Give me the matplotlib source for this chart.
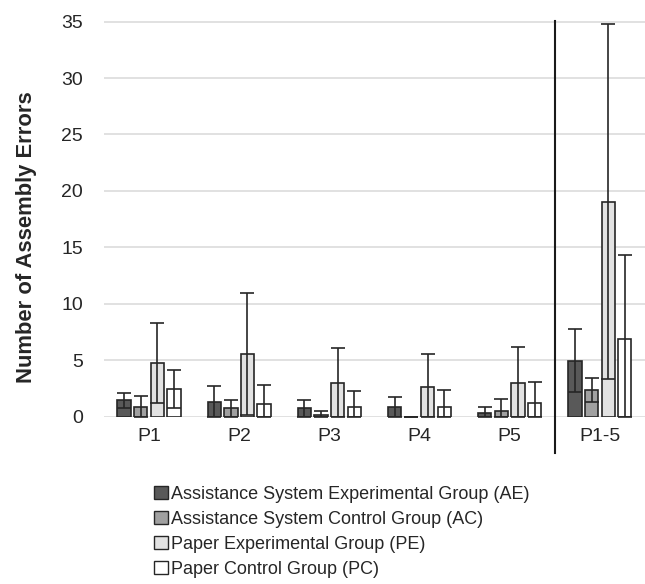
import numpy as np
import matplotlib.pyplot as plt
from matplotlib.patches import Patch

plt.rcParams['font.family'] = ['Liberation Sans', 'DejaVu Sans']

phases = ['P1', 'P2', 'P3', 'P4', 'P5', 'P1-5']
groups = ['Assistance System Experimental Group (AE)',
          'Assistance System Control Group (AC)',
          'Paper Experimental Group (PE)',
          'Paper Control Group (PC)']

# mean errors per phase
ae_mean = [1.45, 1.35, 0.75, 0.85, 0.35, 4.95]
ac_mean = [0.85, 0.75, 0.15, 0.0, 0.5, 2.4]
pe_mean = [4.75, 5.55, 2.95, 2.65, 2.95, 19.05]
pc_mean = [2.45, 1.15, 0.85, 0.9, 1.25, 6.85]

# standard deviations
ae_sd = [0.65, 1.4, 0.75, 0.9, 0.5, 2.8]
ac_sd = [0.95, 0.75, 0.38, 0.0, 1.05, 1.05]
pe_sd = [3.55, 5.4, 3.1, 2.9, 3.25, 15.75]
pc_sd = [1.7, 1.7, 1.45, 1.5, 1.8, 7.5]

means = [ae_mean, ac_mean, pe_mean, pc_mean]
sds = [ae_sd, ac_sd, pe_sd, pc_sd]
colors = ['#595959', '#a0a0a0', '#e2e2e2', '#ffffff']
edge = '#262626'

fig = plt.figure(figsize=(6.45, 5.84), dpi=100)
ax = fig.add_axes([0.161, 0.286, 0.839, 0.678])

x = np.arange(len(phases))
slot = 0.184
width = 0.148
for i in range(4):
    m = np.array(means[i])
    s = np.array(sds[i])
    pos = x + (i - 1.5) * slot
    ax.bar(pos, m, width, color=colors[i], edgecolor=edge, linewidth=1.2, zorder=2)
    lower = np.minimum(s, m)
    ax.errorbar(pos, m, yerr=[lower, s], fmt='none', ecolor=edge,
                elinewidth=1.2, capsize=5, capthick=1.2, zorder=3)

ax.set_xlim(-0.5, len(phases) - 0.5)
ax.set_ylim(-0.02, 35.05)
ax.set_yticks(range(0, 36, 5))
ax.set_xticks(x)
ax.set_xticklabels(phases)
ax.yaxis.grid(True, color='#dcdcdc', linewidth=1.2, zorder=0)
ax.set_axisbelow(True)
for sp in ax.spines.values():
    sp.set_visible(False)
ax.tick_params(length=0, labelsize=14, colors='#262626', pad=8)
ax.tick_params(axis='y', pad=15)
ax.set_ylabel('Number of Assembly Errors', fontsize=15.8, fontweight='bold',
              color='#262626')
ax.yaxis.set_label_coords(-0.124, 0.455)

# separator between single phases and total
ax.plot([4.5, 4.5], [-0.09, 1.0], transform=ax.get_xaxis_transform(),
        color='#1a1a1a', linewidth=1.5, clip_on=False, zorder=4)

handles = [Patch(facecolor=c, edgecolor=edge, linewidth=1.0) for c in colors]
fig.legend(handles, groups, loc='upper left', bbox_to_anchor=(0.225, 0.184),
           frameon=False, fontsize=13, handlelength=0.75, handleheight=0.75,
           handletextpad=0.2, labelspacing=0.45, borderpad=0, labelcolor='#262626')

fig.savefig('out.png', dpi=100)
